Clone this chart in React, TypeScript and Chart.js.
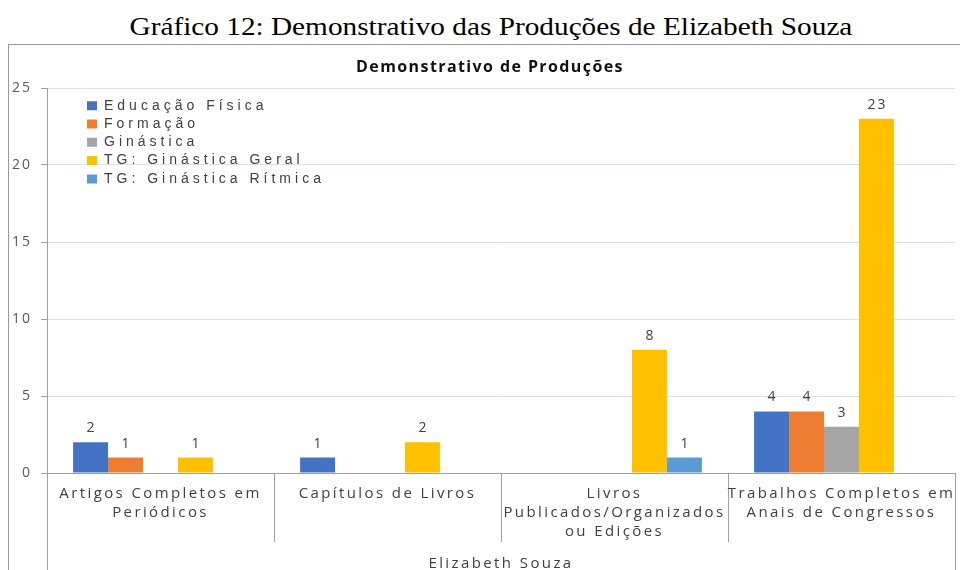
import React, { useEffect, useRef } from "react";
import { Chart, registerables } from "chart.js";

Chart.register(...registerables);

const pageTitle = "Gráfico 12: Demonstrativo das Produções de Elizabeth Souza";
const chartTitle = "Demonstrativo de Produções";
const groupLabel = ["Elizabeth Souza"];

const categories: string[][] = [
  ["Artigos Completos em", "Periódicos"],
  ["Capítulos de Livros"],
  ["Livros", "Publicados/Organizados", "ou Edições"],
  ["Trabalhos Completos em", "Anais de Congressos"],
];

const seriesNames = [
  "Educação Física",
  "Formação",
  "Ginástica",
  "TG: Ginástica Geral",
  "TG: Ginástica Rítmica",
];

const educacaoFisica = [2, 1, 0, 4];
const formacao = [1, 0, 0, 4];
const ginastica = [0, 0, 0, 3];
const ginasticaGeral = [1, 2, 8, 23];
const ginasticaRitmica = [0, 0, 1, 0];

const seriesValues = [educacaoFisica, formacao, ginastica, ginasticaGeral, ginasticaRitmica];
const seriesColors = ["#4472C4", "#ED7D31", "#A5A5A5", "#FFC000", "#5B9BD5"];

const yMin = 0;
const yMax = 25;
const yStep = 5;

function withSpacing(obj: any, method: string, spacing: string) {
  if (!obj) return;
  const flag = "__ws_" + method;
  if (obj[flag]) return;
  const orig = obj[method];
  obj[method] = function (...args: any[]) {
    const ctx = this.ctx;
    ctx.save();
    ctx.letterSpacing = spacing;
    orig.apply(this, args);
    ctx.restore();
  };
  obj[flag] = true;
}

const LEGEND_PAD = 4.3;

const tweakPlugin = {
  id: "tweaks",
  afterLayout(chart: any) {
    const ca = chart.chartArea;
    const lg = chart.legend;
    if (lg) {
      lg.left = ca.left + 40 - LEGEND_PAD;
      lg.top = ca.top + 10.7 - LEGEND_PAD;
      lg.right = ca.right;
      lg.bottom = ca.bottom;
      withSpacing(lg, "draw", "4px");
    }
    const tb = chart.titleBlock;
    if (tb) {
      tb.left += 8;
      tb.right += 8;
      withSpacing(tb, "draw", "1.4px");
    }
    withSpacing(chart.scales.x, "drawLabels", "2.4px");
    withSpacing(chart.scales.x2, "drawLabels", "2.4px");
    withSpacing(chart.scales.y, "drawLabels", "2px");
  },
  afterDatasetsDraw(chart: any) {
    const ctx = chart.ctx;
    ctx.save();
    ctx.font = '14px "Open Sans"';
    ctx.fillStyle = "#404040";
    ctx.textAlign = "center";
    ctx.textBaseline = "middle";
    ctx.letterSpacing = "2px";
    chart.data.datasets.forEach((ds: any, di: number) => {
      const meta = chart.getDatasetMeta(di);
      meta.data.forEach((bar: any, i: number) => {
        const v = ds.data[i];
        if (!v) return;
        ctx.fillText(String(v), bar.x + 1, bar.y - 14);
      });
    });
    ctx.restore();
  },
};

export default function App() {
  const canvasRef = useRef<HTMLCanvasElement | null>(null);
  const titleRef = useRef<HTMLSpanElement | null>(null);

  useEffect(() => {
    const span = titleRef.current;
    if (span) {
      const w = span.offsetWidth;
      if (w > 0) span.style.transform = `scaleX(${723 / w})`;
    }
    const canvas = canvasRef.current;
    if (!canvas) return;
    const gray = "#a0a0a0";
    const xFont = { family: "Open Sans", size: 15, lineHeight: 19 / 15 };
    const chart = new Chart(canvas, {
      type: "bar",
      data: {
        labels: categories,
        datasets: seriesNames.map((name, i) => ({
          label: name,
          data: seriesValues[i],
          backgroundColor: seriesColors[i],
          borderWidth: 0,
          xAxisID: "x",
          yAxisID: "y",
          categoryPercentage: 0.77,
          barPercentage: 1.0,
        })),
      },
      options: {
        animation: false,
        responsive: true,
        maintainAspectRatio: false,
        layout: { padding: { left: 0, right: 16, top: 0, bottom: 0 } },
        plugins: {
          title: {
            display: true,
            text: chartTitle,
            color: "#111",
            font: { family: "Open Sans", size: 16, weight: "bold", lineHeight: 1.2 },
            padding: { top: 12.4, bottom: 11.4 },
          },
          legend: {
            display: true,
            position: "chartArea" as any,
            align: "start",
            labels: {
              boxWidth: 10,
              boxHeight: 9,
              padding: LEGEND_PAD,
              color: "#404040",
              font: { family: "Liberation Sans", size: 14 },
            },
          },
          tooltip: { enabled: false },
        },
        scales: {
          x: {
            type: "category",
            axis: "x",
            position: "bottom",
            offset: true,
            grid: {
              offset: true,
              drawOnChartArea: false,
              drawTicks: true,
              tickLength: 69,
              color: gray,
              tickColor: gray,
            },
            border: { display: true, color: gray },
            ticks: {
              color: "#404040",
              font: xFont,
              padding: -57.5,
              maxRotation: 0,
              minRotation: 0,
              autoSkip: false,
            },
            afterFit: (s: any) => {
              s.height = 69;
            },
          },
          y: {
            type: "linear",
            position: "left",
            min: yMin,
            max: yMax,
            ticks: {
              stepSize: yStep,
              color: "#595959",
              font: { family: "Open Sans", size: 14 },
              padding: 9,
            },
            grid: {
              color: (c: any) => (c.tick && c.tick.value === 0 ? gray : "#d9e1f2"),
              tickColor: gray,
              tickLength: 6,
              drawTicks: true,
            },
            border: { display: true, color: gray },
            afterFit: (s: any) => {
              s.width = 38;
            },
          },
          x2: {
            type: "category",
            axis: "x",
            position: "bottom",
            labels: groupLabel,
            offset: true,
            grid: {
              offset: true,
              drawOnChartArea: false,
              drawTicks: true,
              tickLength: 30,
              color: gray,
              tickColor: gray,
            },
            border: { display: false },
            ticks: {
              color: "#404040",
              font: xFont,
              padding: -18,
              maxRotation: 0,
              minRotation: 0,
              autoSkip: false,
            },
            afterFit: (s: any) => {
              s.height = 30;
            },
          },
        } as any,
      },
      plugins: [tweakPlugin],
    } as any);
    return () => chart.destroy();
  }, []);

  return (
    <div
      style={{
        position: "absolute",
        left: 0,
        top: 0,
        width: 960,
        height: 570,
        overflow: "hidden",
        background: "#fff",
      }}
    >
      <div
        style={{
          position: "absolute",
          left: 0,
          top: 14,
          width: 981,
          textAlign: "center",
          fontFamily: '"Liberation Serif", "Times New Roman", serif',
          fontSize: 26,
          lineHeight: "26px",
          color: "#000",
          whiteSpace: "nowrap",
        }}
      >
        <span ref={titleRef} style={{ display: "inline-block" }}>
          {pageTitle}
        </span>
      </div>
      <div
        style={{
          position: "absolute",
          left: 8,
          top: 44,
          width: 1100,
          height: 700,
          border: "1px solid #999",
          boxSizing: "border-box",
        }}
      />
      <div style={{ position: "absolute", left: 9, top: 45, width: 962, height: 527 }}>
        <canvas ref={canvasRef} />
      </div>
    </div>
  );
}
